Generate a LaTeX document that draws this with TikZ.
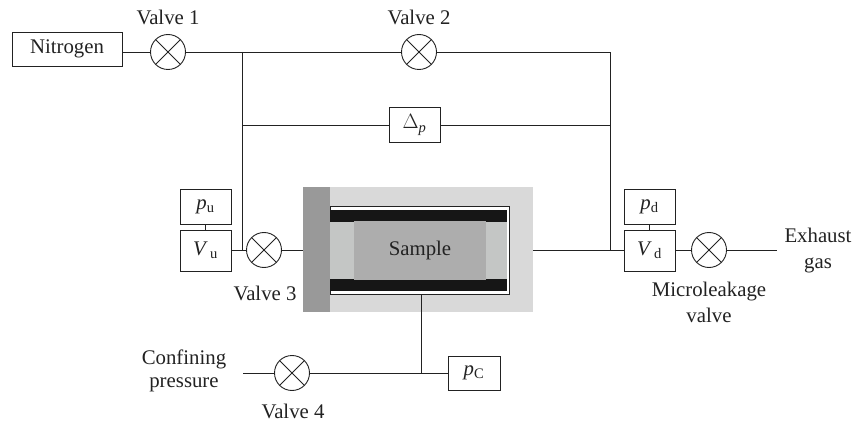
\documentclass[tikz,border=0pt]{standalone}
\usepackage{fontspec}
\setmainfont{Liberation Serif}
\definecolor{inkline}{HTML}{222222}
\definecolor{cellouter}{HTML}{D9D9D9}
\definecolor{cellcap}{HTML}{999999}
\definecolor{cellfill}{HTML}{C4C6C5}
\definecolor{samplefill}{HTML}{ADADAD}
\definecolor{sealbar}{HTML}{161616}
\newcommand{\subtext}[2]{\textit{#1}\textsubscript{#2}}
\tikzset{
  pipe/.style={draw=inkline,line width=0.9pt},
  tag/.style={text=inkline,font=\fontsize{20.8}{25}\selectfont,inner sep=0pt,align=center},
  box/.style={tag,draw=inkline,line width=0.9pt,rectangle,minimum width=51,minimum height=35},
  valve/.style={draw=inkline,line width=0.9pt,circle,minimum size=35,inner sep=0pt,
    path picture={
      \draw[inkline,line width=0.9pt] (path picture bounding box.north west)--(path picture bounding box.south east);
      \draw[inkline,line width=0.9pt] (path picture bounding box.south west)--(path picture bounding box.north east);
    }},
  block/.style={rectangle,inner sep=0pt,outer sep=0pt}
}
\begin{document}
\begin{tikzpicture}[x=1pt,y=-1pt]
\useasboundingbox (0,0) rectangle (855,425);

% core holder
\node[block,fill=cellouter,minimum width=230,minimum height=125] (holder) at (418,249.5) {};
\node[block,fill=cellcap,minimum width=27,minimum height=125] (cap) at (316.5,249.5) {};
\node[block,fill=white,draw=inkline,line width=0.8pt,minimum width=179,minimum height=88] (sleeve) at (419.5,250) {};
\node[block,fill=cellfill,minimum width=177,minimum height=60] (core) at (418.5,250.5) {};
\node[block,fill=sealbar,minimum width=177,minimum height=12] (sealtop) at (418.5,216) {};
\node[block,fill=sealbar,minimum width=177,minimum height=12] (sealbot) at (418.5,285) {};
\node[block,fill=samplefill,tag,minimum width=132,minimum height=59] (sample) at (420,250.5) {Sample};

\node[box,minimum width=110,minimum height=34] (nitrogen) at (67,49) {Nitrogen};
\node[box] (deltap) at (414.5,125) {$\Delta$\textsubscript{\textit{p}}};
\node[box] (pu) at (205.5,206.5) {\subtext{p}{u}};
\node[box,minimum height=41] (vu) at (205.5,250.5) {\subtext{V}{\,u}};
\node[box] (pd) at (649.5,206.5) {\subtext{p}{d}};
\node[box,minimum height=41] (vd) at (649.5,250.5) {\subtext{V}{\,d}};
\node[box,minimum width=52,minimum height=34] (pc) at (474,373) {\subtext{p}{C}};

\node[valve] (valvea) at (168,52) {};
\node[valve] (valveb) at (419,52) {};
\node[valve] (valvec) at (264,250) {};
\node[valve] (valved) at (292,373) {};
\node[valve] (valvem) at (709,250) {};

\node[tag] (labela) at (168,17) {Valve 1};
\node[tag] (labelb) at (419,17) {Valve 2};
\node[tag] (labelc) at (265,293) {Valve 3};
\node[tag] (labeld) at (293,411) {Valve 4};
\node[tag] (labelm) at (709,302) {Microleakage\\[1pt]valve};
\node[tag] (exhaust) at (818,251) {Exhaust\\[1pt]gas};
\node[tag] (confining) at (184,370.5) {Confining\\[-2pt]pressure};

\coordinate (topleft) at (242,52);
\coordinate (topright) at (610,52);
\coordinate (midleft) at (242,125);
\coordinate (midright) at (610,125);
\coordinate (lowleft) at (242,250);
\coordinate (lowright) at (610,250);
\coordinate (holderout) at (421,373);
\coordinate (gasend) at (777,250);
\coordinate (confend) at (243,373);

\draw[pipe] (valvea.west-|nitrogen.east)--(valvea);
\draw[pipe] (valvea)--(valveb);
\draw[pipe] (valveb)--(topright)--(lowright);
\draw[pipe] (topleft)--(lowleft);
\draw[pipe] (midleft)--(deltap);
\draw[pipe] (deltap)--(midright);
\draw[pipe] (pu)--(pu|-vu.north);
\draw[pipe] (pd)--(pd|-vd.north);
\draw[pipe] (lowleft-|vu.east)--(valvec);
\draw[pipe] (valvec)--(lowleft-|holder.west);
\draw[pipe] (lowright-|holder.east)--(lowright-|vd.west);
\draw[pipe] (lowright-|vd.east)--(valvem);
\draw[pipe] (valvem)--(gasend);
\draw[pipe] (confend)--(valved);
\draw[pipe] (valved)--(pc);
\draw[pipe] (holderout)--(holderout|-sleeve.south);
\end{tikzpicture}
\end{document}
